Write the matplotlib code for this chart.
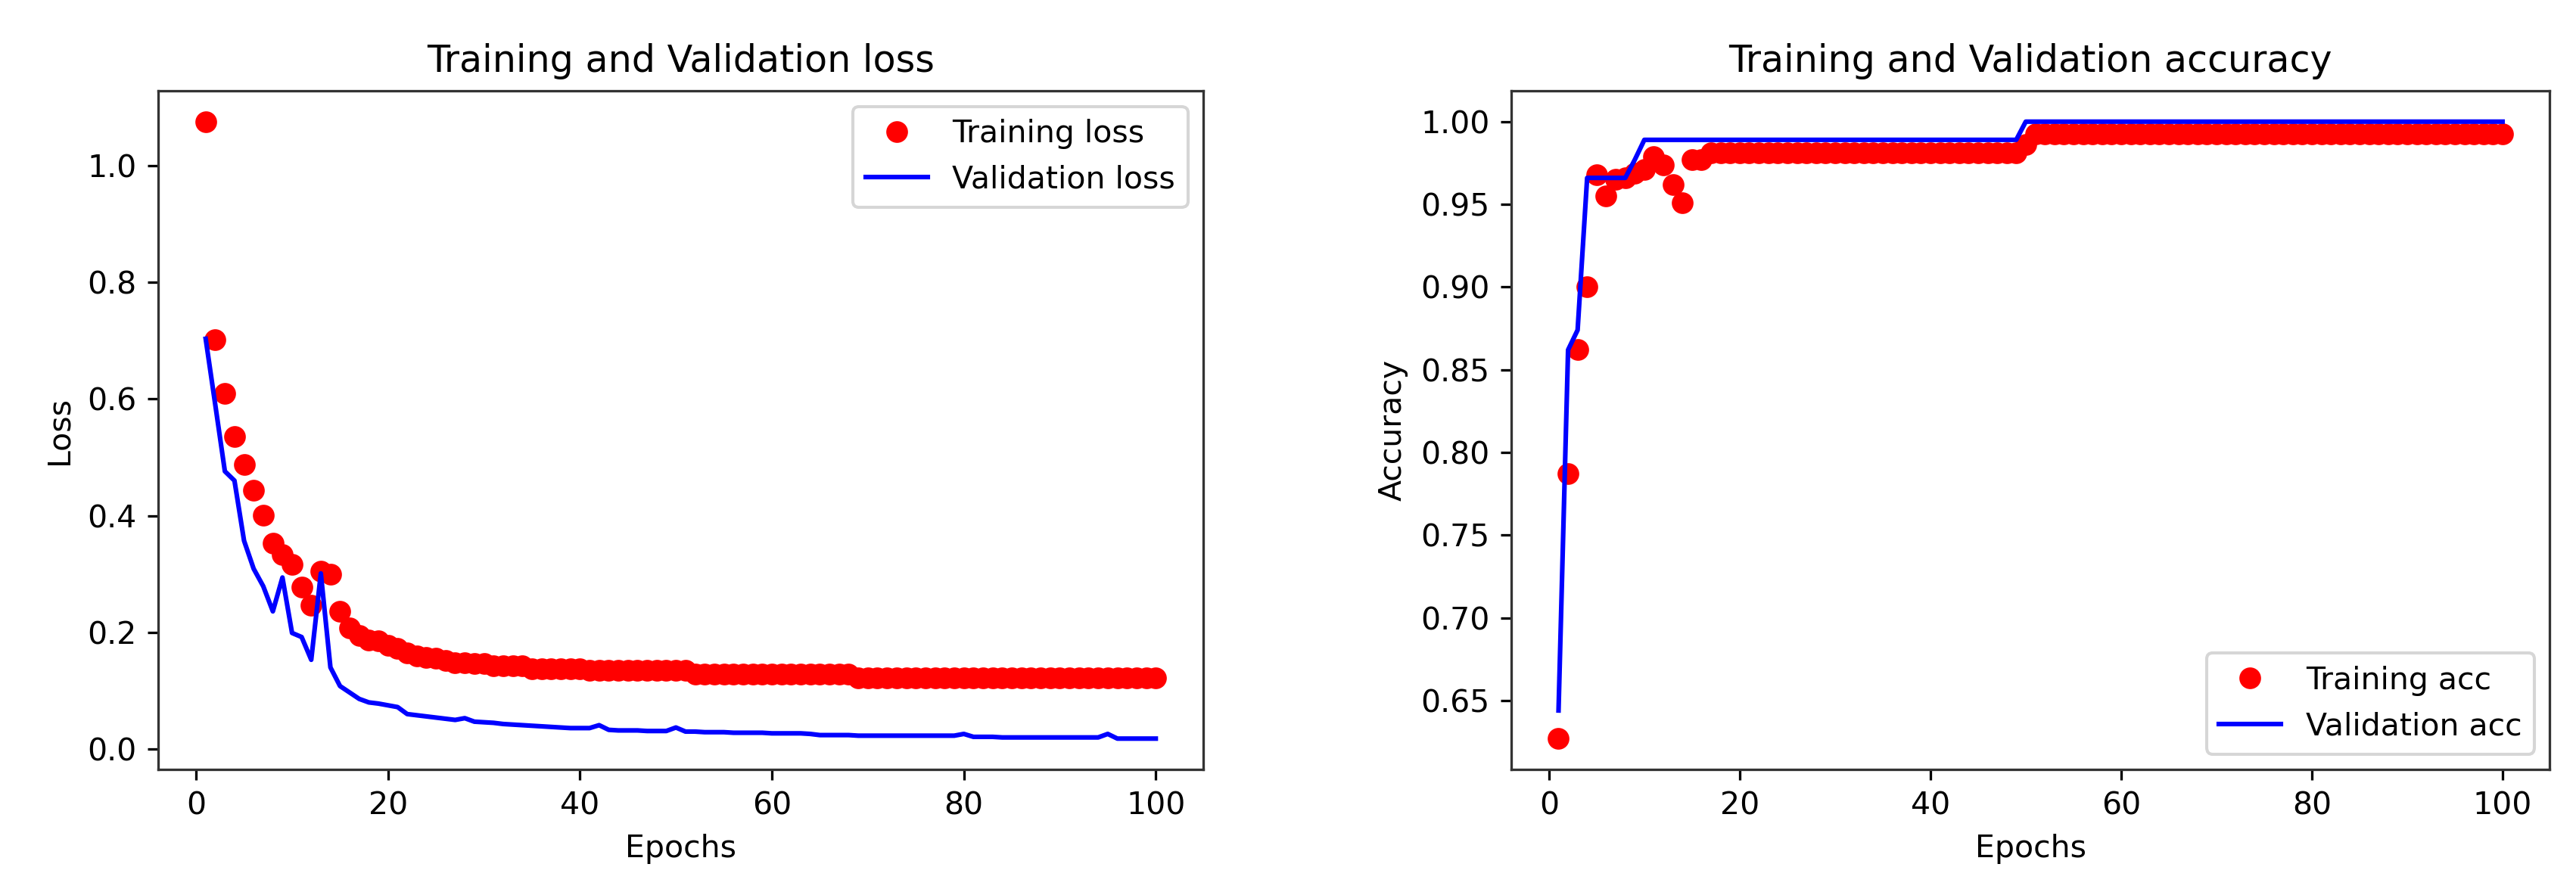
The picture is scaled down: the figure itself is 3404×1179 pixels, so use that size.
import matplotlib
matplotlib.use("Agg")
import matplotlib.pyplot as plt

epochs = list(range(1, 101))

train_loss = [1.075, 0.701, 0.610, 0.535, 0.487, 0.444, 0.401, 0.353, 0.333, 0.316,
              0.277, 0.246, 0.305, 0.299, 0.236, 0.208, 0.195, 0.187, 0.185, 0.178,
              0.172, 0.165, 0.159, 0.157, 0.156, 0.152, 0.148, 0.148, 0.147, 0.147,
              0.143, 0.143, 0.143, 0.143,
              0.138, 0.138, 0.138, 0.138, 0.138, 0.138,
              0.135, 0.135, 0.135, 0.135, 0.135, 0.135, 0.135, 0.135, 0.135, 0.135, 0.135,
              0.129, 0.129, 0.129, 0.129, 0.129, 0.129, 0.129, 0.129, 0.129, 0.129,
              0.129, 0.129, 0.129, 0.129, 0.129, 0.129, 0.129,
              0.122, 0.122, 0.122, 0.122, 0.122, 0.122, 0.122, 0.122, 0.122, 0.122,
              0.122, 0.122, 0.122, 0.122, 0.122, 0.122, 0.122, 0.122, 0.122, 0.122,
              0.122, 0.122, 0.122, 0.122, 0.122, 0.122, 0.122, 0.122, 0.122, 0.122,
              0.122, 0.122]

val_loss = [0.703, 0.590, 0.476, 0.460, 0.357, 0.309, 0.279, 0.236, 0.294, 0.199,
            0.192, 0.153, 0.301, 0.140, 0.108, 0.097, 0.086, 0.080, 0.078, 0.075,
            0.072, 0.060, 0.058, 0.056, 0.054, 0.052, 0.050, 0.053, 0.047, 0.046,
            0.045, 0.043, 0.042, 0.041, 0.040, 0.039, 0.038, 0.037, 0.036, 0.036,
            0.036, 0.041, 0.033,
            0.032, 0.032, 0.032, 0.031, 0.031, 0.031,
            0.037,
            0.030, 0.030, 0.029, 0.029, 0.029, 0.028, 0.028, 0.028, 0.028, 0.027,
            0.027, 0.027, 0.027, 0.026,
            0.024, 0.024, 0.024, 0.024, 0.023, 0.023, 0.023, 0.023, 0.023, 0.023,
            0.023, 0.023, 0.023, 0.023, 0.023,
            0.026,
            0.021, 0.021, 0.021, 0.020, 0.020, 0.020, 0.020, 0.020, 0.020, 0.020,
            0.020, 0.020, 0.020, 0.020,
            0.026,
            0.018, 0.018, 0.018, 0.018, 0.018]

train_acc = [0.627, 0.787, 0.862, 0.900, 0.968, 0.955, 0.965, 0.966, 0.969, 0.971,
             0.979, 0.974, 0.962, 0.951, 0.977, 0.977] + [0.981] * 33 + [0.986] + [0.9926] * 50

val_acc = [0.644, 0.862, 0.874] + [0.966] * 5 + [0.977] + [0.989] * 40 + [1.0] * 51

plt.rcParams['axes.edgecolor'] = '#333333'

fig = plt.figure(figsize=(3404 / 295, 1179 / 295), dpi=295)

ax1 = fig.add_axes([0.0614, 0.1374, 0.4057, 0.7608])
ax1.plot(epochs, train_loss, 'ro', label='Training loss')
ax1.plot(epochs, val_loss, 'b', label='Validation loss')
ax1.set_title('Training and Validation loss')
ax1.set_xlabel('Epochs')
ax1.set_ylabel('Loss')
ax1.legend(loc='upper right')

ax2 = fig.add_axes([0.5867, 0.1374, 0.4031, 0.7608])
ax2.plot(epochs, train_acc, 'ro', label='Training acc')
ax2.plot(epochs, val_acc, 'b', label='Validation acc')
ax2.set_title('Training and Validation accuracy')
ax2.set_xlabel('Epochs')
ax2.set_ylabel('Accuracy')
ax2.legend(loc='lower right')

fig.savefig('out.png', dpi=295)
